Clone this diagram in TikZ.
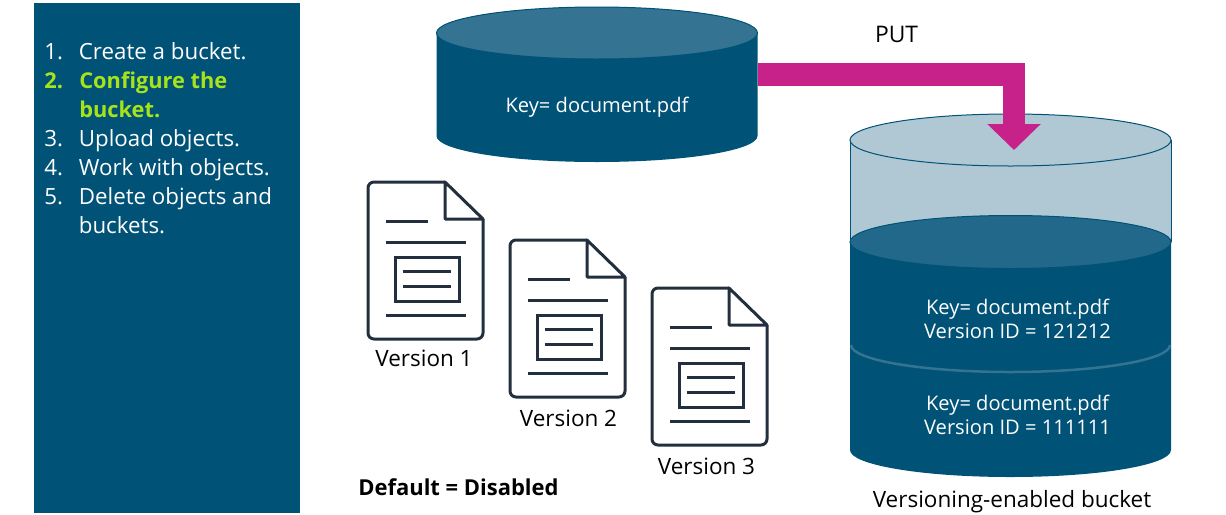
\documentclass[tikz,border=0pt]{standalone}
\usepackage{fontspec}
\setmainfont{Open Sans}
\usetikzlibrary{arrows.meta}
\definecolor{bucketblue}{HTML}{005276}
\definecolor{bucketlid}{HTML}{347391}
\definecolor{bucketpale}{HTML}{B0C8D4}
\definecolor{bucketmid}{HTML}{22688A}
\definecolor{putpink}{HTML}{C7218A}
\definecolor{docink}{HTML}{232F3E}
\definecolor{steplime}{HTML}{A6E31A}
\begin{document}
\begin{tikzpicture}[x=0.02cm, y=-0.02cm,
        stepitem/.style={anchor=base west, inner sep=0pt, align=left, text=white, font=\fontsize{12.7}{16.44}\selectfont},
        steplive/.style={stepitem, text=steplime, font=\fontsize{12.4}{16.44}\selectfont\bfseries},
        bucketkey/.style={text=white, align=center, inner sep=0pt, font=\fontsize{11.45}{13.6}\selectfont},
        plainlabel/.style={text=black, inner sep=0pt, font=\fontsize{12.8}{15}\selectfont},
        docline/.style={draw=docink, line width=0.06cm},
        putflow/.style={-{Triangle[length=0.52cm, width=1.04cm]}, draw=putpink, line width=0.45cm}]

    \useasboundingbox (0,0) rectangle (1226,514);

    % Steps panel
    \node[fill=bucketblue, minimum width=5.32cm, minimum height=10.2cm, inner sep=0pt] (panel) at (167,258) {};
    \node[stepitem] (n1) at (44,59) {1.};
    \node[stepitem] (s1) at (78.5,59) {Create a bucket.};
    \node[steplive] (n2) at (44,88) {2.};
    \node[steplive] (s2) at (79,117) {Configure the\\bucket.};
    \node[stepitem] (n3) at (44,146) {3.};
    \node[stepitem] (s3) at (78.5,146) {Upload objects.};
    \node[stepitem] (n4) at (44,175) {4.};
    \node[stepitem] (s4) at (78.5,175) {Work with objects.};
    \node[stepitem] (n5) at (44,204) {5.};
    \node[stepitem] (s5) at (78.5,233) {Delete objects and\\buckets.};

    % Source bucket
    \fill[bucketblue] (436.5,33) -- (436.5,136) arc[start angle=180, end angle=0, x radius=160.5, y radius=26] -- (757.5,33) -- cycle;
    \draw[fill=bucketlid, draw=bucketblue, line width=0.02cm] (597,33) ellipse [x radius=160.5, y radius=26];
    \node[bucketkey] (srckey) at (597,107) {Key= document.pdf};

    % Target bucket
    \fill[bucketpale] (850,140) rectangle (1171,242);
    \draw[bucketblue, line width=0.02cm] (850,140) -- (850,242) (1171,140) -- (1171,242);
    \fill[bucketblue] (850,242) -- (850,450) arc[start angle=180, end angle=0, x radius=160.5, y radius=27] -- (1171,242) -- cycle;
    \draw[bucketlid, line width=0.05cm] (851,345) arc[start angle=180, end angle=0, x radius=159.5, y radius=27];
    \draw[fill=bucketpale, draw=bucketblue, line width=0.02cm] (1010.5,140) ellipse [x radius=160.5, y radius=26];
    \draw[fill=bucketmid, draw=bucketblue, line width=0.02cm] (1010.5,242) ellipse [x radius=160.5, y radius=26.5];
    \node[bucketkey] (keyb) at (1017.5,318.5) {Key= document.pdf\\Version ID = 121212};
    \node[bucketkey] (keya) at (1017.5,414.5) {Key= document.pdf\\Version ID = 111111};
    \node[plainlabel] (bucketname) at (1012,502) {Versioning-enabled bucket};

    % PUT arrow
    \coordinate (putstart) at (758,74.5);
    \coordinate (puttip) at (1014,150);
    \draw[putflow] (putstart) -| (puttip);
    \node[plainlabel, font=\fontsize{13}{15}\selectfont] (putlabel) at (896.5,34) {PUT};

    % Version documents
    \foreach \dx/\dy/\n in {368/182/1, 510/240/2, 652/288/3} {
        \begin{scope}[shift={(\dx,\dy)}]
            \draw[docline, rounded corners=0.12cm] (77,0) -- (0,0) -- (0,157) -- (115,157) -- (115,37);
            \draw[docline, line join=round] (77,0) -- (115,37) -- (77,37) -- cycle;
            \draw[docline] (18,39) -- (60,39) (18,60) -- (98,60) (18,133) -- (98,133);
            \draw[docline] (27,75) rectangle (91,119);
            \draw[docline] (35,89) -- (83,89) (35,104) -- (83,104);
        \end{scope}
    }
    \node[plainlabel] (ver1) at (424,358) {Version 1};
    \node[plainlabel] (ver2) at (568.5,418) {Version 2};
    \node[plainlabel] (ver3) at (706.5,466) {Version 3};
    \node[plainlabel, font=\fontsize{12.5}{15}\selectfont\bfseries, anchor=west] (defaultnote) at (358,487) {Default = Disabled};
\end{tikzpicture}
\end{document}
